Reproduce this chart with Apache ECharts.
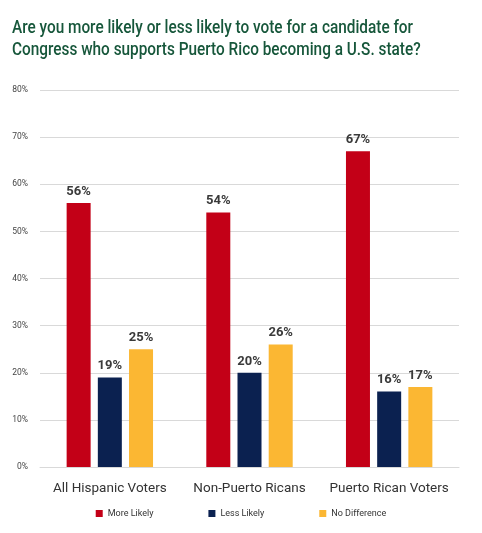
<!DOCTYPE html>
<html>
<head>
<meta charset="utf-8">
<script src="https://cdn.jsdelivr.net/npm/echarts@6/dist/echarts.min.js"></script>
<style>
  html, body { margin: 0; padding: 0; background: #fff; }
  #chart { width: 482px; height: 533px; }
</style>
</head>
<body>
<div id="chart"></div>
<script>
const categories = ['All Hispanic Voters', 'Non-Puerto Ricans', 'Puerto Rican Voters']
const moreLikely = [56, 54, 67]
const lessLikely = [19, 20, 16]
const noDifference = [25, 26, 17]
const seriesNames = ['More Likely', 'Less Likely', 'No Difference']
const colors = ['#c30017', '#0b2150', '#fbb733']
const titleLines = [
  'Are you more likely or less likely to vote for a candidate for',
  'Congress who supports Puerto Rico becoming a U.S. state?'
]

const fontName = 'Roboto, "Liberation Sans", sans-serif'

// the original title is set in a condensed face, so squeeze it to the same width
const titleFont = '500 18px ' + fontName
const measure = document.createElement('canvas').getContext('2d')
measure.font = titleFont
const titleScale = 401 / measure.measureText(titleLines[0]).width

const chart = echarts.init(document.getElementById('chart'))

const makeSeries = (name, data, color) => ({
  name,
  type: 'bar',
  data,
  barWidth: 24,
  barGap: '30%',
  itemStyle: { color },
  label: {
    show: true,
    position: 'top',
    distance: 5,
    formatter: '{c}%',
    fontFamily: fontName,
    fontWeight: 'bold',
    fontSize: 13,
    color: '#3a3a3a'
  }
})

chart.setOption({
  animation: false,
  graphic: [{
    type: 'text',
    x: 12,
    y: 17,
    scaleX: titleScale,
    style: {
      text: titleLines.join('\n'),
      font: titleFont,
      lineHeight: 22,
      fill: '#17573b'
    }
  }],
  legend: {
    bottom: 10,
    left: 'center',
    itemWidth: 7,
    itemHeight: 7,
    itemGap: 55,
    icon: 'rect',
    textStyle: { fontFamily: fontName, fontSize: 9, color: '#333' },
    data: seriesNames
  },
  grid: { left: 40, right: 23, top: 90, bottom: 66 },
  xAxis: {
    type: 'category',
    data: categories,
    axisTick: { show: false },
    axisLine: { lineStyle: { color: '#d9d9d9', width: 1 } },
    axisLabel: { interval: 0, fontFamily: fontName, fontSize: 13.5, color: '#333', margin: 15 }
  },
  yAxis: {
    type: 'value',
    min: 0,
    max: 80,
    interval: 10,
    axisLabel: {
      formatter: '{value}%',
      fontFamily: fontName,
      fontSize: 8.5,
      color: '#444',
      margin: 12
    },
    splitLine: { lineStyle: { color: '#d9d9d9', width: 1 } }
  },
  series: [
    makeSeries(seriesNames[0], moreLikely, colors[0]),
    makeSeries(seriesNames[1], lessLikely, colors[1]),
    makeSeries(seriesNames[2], noDifference, colors[2])
  ]
})
</script>
</body>
</html>
